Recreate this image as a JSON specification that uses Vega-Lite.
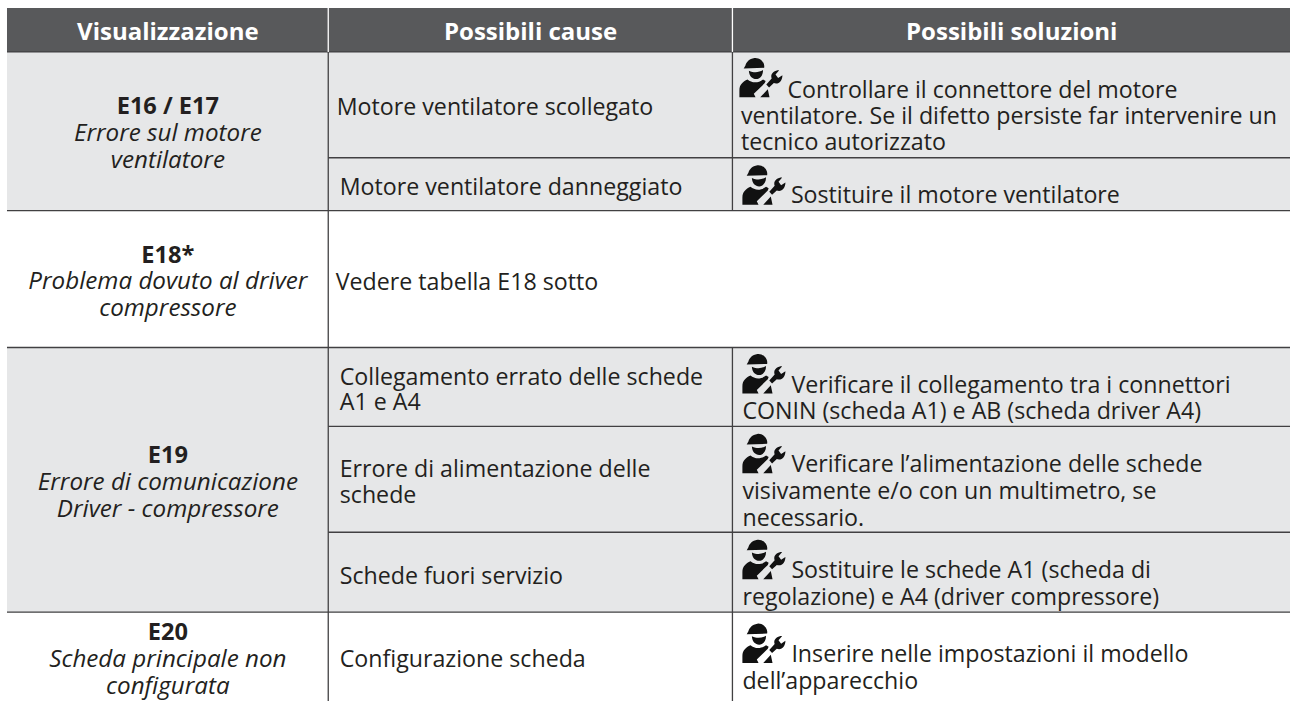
{"$schema":"https://vega.github.io/schema/vega-lite/v6.json","width":1291,"height":702,"autosize":{"type":"fit","contains":"padding"},"padding":0,"background":"white","view":{"stroke":null},"config":{"axis":{"grid":false}},
"datasets":{
"cells":[{"kind":"header","left":7,"right":1291,"top":8,"bottom":52},{"kind":"grey","left":7,"right":1291,"top":52,"bottom":211},{"kind":"grey","left":7,"right":1291,"top":348,"bottom":613}],
"lines":[{"kind":"dark","a":7,"b":1291,"c":52,"d":52},{"kind":"dark","a":328.5,"b":1291,"c":158,"d":158},{"kind":"dark","a":7,"b":1291,"c":211,"d":211},{"kind":"dark","a":7,"b":1291,"c":348,"d":348},{"kind":"dark","a":328.5,"b":1291,"c":427,"d":427},{"kind":"dark","a":328.5,"b":1291,"c":533,"d":533},{"kind":"dark","a":7,"b":1291,"c":613,"d":613},{"kind":"dark","a":328.5,"b":328.5,"c":52,"d":702},{"kind":"dark","a":733,"b":733,"c":52,"d":211},{"kind":"dark","a":733,"b":733,"c":348,"d":702},{"kind":"white","a":328.5,"b":328.5,"c":8,"d":52},{"kind":"white","a":733,"b":733,"c":8,"d":52}],
"labels":[
{"kind":"head","t":"Visualizzazione","px":168,"py":33.5},{"kind":"head","t":"Possibili cause","px":531,"py":33.5},{"kind":"head","t":"Possibili soluzioni","px":1012.5,"py":33.5},
{"kind":"id","t":"E16 / E17","px":168,"py":107},{"kind":"desc","t":"Errore sul motore","px":168,"py":134.4},{"kind":"desc","t":"ventilatore","px":168,"py":161.7},
{"kind":"id","t":"E18*","px":168,"py":256},{"kind":"desc","t":"Problema dovuto al driver","px":168,"py":282.5},{"kind":"desc","t":"compressore","px":168,"py":309.5},
{"kind":"id","t":"E19","px":168,"py":457},{"kind":"desc","t":"Errore di comunicazione","px":168,"py":483.5},{"kind":"desc","t":"Driver - compressore","px":168,"py":510.5},
{"kind":"id","t":"E20","px":168,"py":633.8},{"kind":"desc","t":"Scheda principale non","px":168,"py":661},{"kind":"desc","t":"configurata","px":168,"py":687.7},
{"kind":"body","t":"Motore ventilatore scollegato","px":337,"py":108},{"kind":"body","t":"Motore ventilatore danneggiato","px":340,"py":188},{"kind":"body","t":"Vedere tabella E18 sotto","px":336,"py":283},{"kind":"body","t":"Collegamento errato delle schede","px":340,"py":379},{"kind":"body","t":"A1 e A4","px":340,"py":404},{"kind":"body","t":"Errore di alimentazione delle","px":340,"py":471},{"kind":"body","t":"schede","px":340,"py":497},{"kind":"body","t":"Schede fuori servizio","px":340,"py":578},{"kind":"body","t":"Configurazione scheda","px":340,"py":661},
{"kind":"body","t":"Controllare il connettore del motore","px":788,"py":90.7},{"kind":"body","t":"ventilatore. Se il difetto persiste far intervenire un","px":741.5,"py":117},{"kind":"body","t":"tecnico autorizzato","px":741.5,"py":143.3},
{"kind":"body","t":"Sostituire il motore ventilatore","px":791.5,"py":196.5},
{"kind":"body","t":"Verificare il collegamento tra i connettori","px":792,"py":386.5},{"kind":"body","t":"CONIN (scheda A1) e AB (scheda driver A4)","px":743,"py":412.5},
{"kind":"body","t":"Verificare l’alimentazione delle schede","px":792,"py":465.5},{"kind":"body","t":"visivamente e/o con un multimetro, se","px":743,"py":492.5},{"kind":"body","t":"necessario.","px":743,"py":520},
{"kind":"body","t":"Sostituire le schede A1 (scheda di","px":792,"py":571.5},{"kind":"body","t":"regolazione) e A4 (driver compressore)","px":743,"py":598.5},
{"kind":"body","t":"Inserire nelle impostazioni il modello","px":792,"py":655.5},{"kind":"body","t":"dell’apparecchio","px":743,"py":682.5}
],
"icons":[{"px":761.5,"py":78.5},{"px":764.5,"py":186},{"px":764.5,"py":375},{"px":764.5,"py":455},{"px":764.5,"py":561},{"px":764.5,"py":645}]
},
"layer":[
{"data":{"name":"cells"},"mark":{"type":"rect","stroke":null},"encoding":{"x":{"field":"left","type":"quantitative","scale":{"domain":[0,1291],"nice":false,"zero":false},"axis":null},"x2":{"field":"right"},"y":{"field":"top","type":"quantitative","scale":{"domain":[702,0],"nice":false,"zero":false},"axis":null},"y2":{"field":"bottom"},"color":{"field":"kind","type":"nominal","scale":{"domain":["header","grey"],"range":["#58595b","#e6e7e8"]},"legend":null}}},
{"data":{"name":"lines"},"mark":{"type":"rule","strokeWidth":1.3},"encoding":{"x":{"field":"a","type":"quantitative","scale":{"domain":[0,1291],"nice":false,"zero":false},"axis":null},"x2":{"field":"b"},"y":{"field":"c","type":"quantitative","scale":{"domain":[702,0],"nice":false,"zero":false},"axis":null},"y2":{"field":"d"},"stroke":{"field":"kind","type":"nominal","scale":{"domain":["dark","white"],"range":["#414042","#ffffff"]},"legend":null}}},
{"data":{"name":"icons"},"mark":{"type":"point","filled":true,"opacity":1,"color":"#111111","size":1850,"shape":"M-.8,-.46 L.15,-.49 C.2,-.75 -.05,-.98 -.3,-.95 C-.55,-.92 -.68,-.75 -.72,-.6 Z M-.56,-.36 C-.3,-.25 -.1,-.28 .1,-.39 C.1,-.12 -.05,.03 -.22,.03 C-.4,.03 -.55,-.12 -.56,-.36 Z M-1,.88 L-1,.55 C-1,.3 -.85,.15 -.62,.05 C-.45,.2 -.15,.25 .1,.05 L.22,.12 L.18,.22 L-.33,.72 L-.25,.88 Z M-.03,.88 L.32,.5 L.4,.88 Z M.25,.28 L.5,0 C.42,-.2 .6,-.38 .85,-.38 L.68,-.18 L.8,-.02 L1,-.15 C1,.12 .82,.3 .6,.22 L.38,.42 Z"},"encoding":{"x":{"field":"px","type":"quantitative","scale":{"domain":[0,1291],"nice":false,"zero":false},"axis":null},"y":{"field":"py","type":"quantitative","scale":{"domain":[702,0],"nice":false,"zero":false},"axis":null}}},
{"data":{"name":"labels"},"transform":[{"filter":"datum.kind==='head'"}],"mark":{"type":"text","font":"Open Sans","fontSize":24,"fontWeight":"bold","color":"#ffffff","align":"center","baseline":"middle"},"encoding":{"x":{"field":"px","type":"quantitative","scale":{"domain":[0,1291],"nice":false,"zero":false},"axis":null},"y":{"field":"py","type":"quantitative","scale":{"domain":[702,0],"nice":false,"zero":false},"axis":null},"text":{"field":"t"}}},
{"data":{"name":"labels"},"transform":[{"filter":"datum.kind==='id'"}],"mark":{"type":"text","font":"Open Sans","fontSize":23.6,"fontWeight":"bold","color":"#231f20","align":"center","baseline":"middle"},"encoding":{"x":{"field":"px","type":"quantitative","scale":{"domain":[0,1291],"nice":false,"zero":false},"axis":null},"y":{"field":"py","type":"quantitative","scale":{"domain":[702,0],"nice":false,"zero":false},"axis":null},"text":{"field":"t"}}},
{"data":{"name":"labels"},"transform":[{"filter":"datum.kind==='desc'"}],"mark":{"type":"text","font":"Open Sans","fontSize":24.2,"fontStyle":"italic","color":"#231f20","align":"center","baseline":"middle"},"encoding":{"x":{"field":"px","type":"quantitative","scale":{"domain":[0,1291],"nice":false,"zero":false},"axis":null},"y":{"field":"py","type":"quantitative","scale":{"domain":[702,0],"nice":false,"zero":false},"axis":null},"text":{"field":"t"}}},
{"data":{"name":"labels"},"transform":[{"filter":"datum.kind==='body'"}],"mark":{"type":"text","font":"Open Sans","fontSize":23.2,"color":"#231f20","align":"left","baseline":"middle"},"encoding":{"x":{"field":"px","type":"quantitative","scale":{"domain":[0,1291],"nice":false,"zero":false},"axis":null},"y":{"field":"py","type":"quantitative","scale":{"domain":[702,0],"nice":false,"zero":false},"axis":null},"text":{"field":"t"}}}
]}
